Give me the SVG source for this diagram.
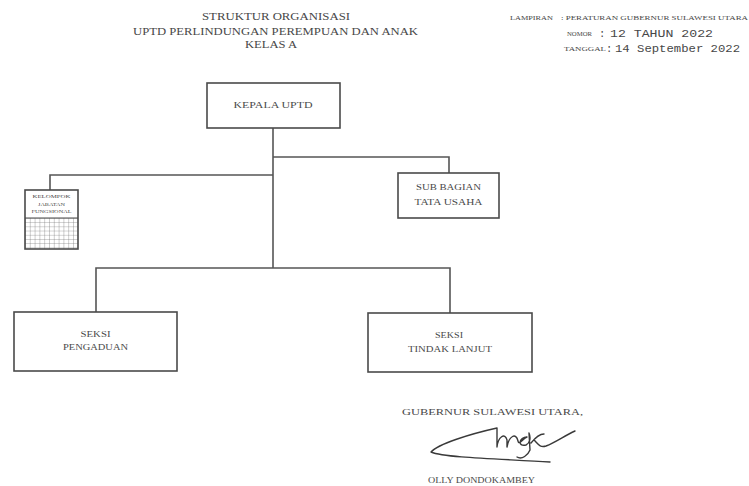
<svg xmlns="http://www.w3.org/2000/svg" width="749" height="486" viewBox="0 0 749 486">
  <defs>
    <style>
      .t { font-family: "Liberation Serif", "Times New Roman", serif; fill: #474747; }
      .m { font-family: "Liberation Mono", "Courier New", monospace; fill: #474747; }
      .box { fill: #ffffff; stroke: #4a4a4a; stroke-width: 1.6; }
      .conn { fill: none; stroke: #555555; stroke-width: 1.6; }
      .grid { stroke: #666666; stroke-width: 0.6; }
    </style>
    <pattern id="gridpat" x="25" y="218" width="4.8" height="4.2" patternUnits="userSpaceOnUse">
      <rect width="4.8" height="4.2" fill="#ffffff"/>
      <path d="M0 0 V4.2 M0 0 H4.8" class="grid"/>
    </pattern>
  </defs>
  <rect width="749" height="486" fill="#ffffff"/>

  <g id="title">
    <text class="t" x="276" y="20" font-size="10.5" text-anchor="middle" textLength="148" lengthAdjust="spacingAndGlyphs">STRUKTUR ORGANISASI</text>
    <text class="t" x="275.5" y="35" font-size="10.5" text-anchor="middle" textLength="285" lengthAdjust="spacingAndGlyphs">UPTD PERLINDUNGAN PEREMPUAN DAN ANAK</text>
    <text class="t" x="271" y="48" font-size="10.5" text-anchor="middle" textLength="52" lengthAdjust="spacingAndGlyphs">KELAS A</text>
  </g>

  <g id="lampiran">
    <text class="t" x="510" y="20" font-size="6" textLength="43" lengthAdjust="spacingAndGlyphs">LAMPIRAN</text>
    <text class="t" x="561" y="20" font-size="6" textLength="187" lengthAdjust="spacingAndGlyphs">: PERATURAN GUBERNUR SULAWESI UTARA</text>
    <text class="t" x="567" y="36" font-size="6" textLength="25" lengthAdjust="spacingAndGlyphs">NOMOR</text>
    <text class="m" x="599" y="37" font-size="10.5">:</text>
    <text class="m" x="610" y="37" font-size="10.5" textLength="103" lengthAdjust="spacingAndGlyphs">12 TAHUN 2022</text>
    <text class="t" x="564" y="51" font-size="6" textLength="42" lengthAdjust="spacingAndGlyphs">TANGGAL</text>
    <text class="m" x="606" y="52" font-size="10.5">:</text>
    <text class="m" x="615" y="52" font-size="10.5" textLength="125" lengthAdjust="spacingAndGlyphs">14 September 2022</text>
  </g>

  <g id="connectors">
    <path class="conn" d="M273 128 V268"/>
    <path class="conn" d="M273 157 H449 V173"/>
    <path class="conn" d="M273 175 H50 V190"/>
    <path class="conn" d="M96 312 V268 H450 V313"/>
  </g>

  <g id="kepala-uptd">
    <rect class="box" x="207" y="83" width="133" height="45"/>
    <text class="t" x="273" y="108" font-size="8" text-anchor="middle" textLength="79" lengthAdjust="spacingAndGlyphs">KEPALA UPTD</text>
  </g>

  <g id="kelompok-jabatan-fungsional">
    <rect x="25" y="218" width="53" height="31" fill="url(#gridpat)"/>
    <rect class="box" x="25" y="190" width="53" height="59" style="fill:none"/>
    <line x1="25" y1="218" x2="78" y2="218" stroke="#4a4a4a" stroke-width="1.2"/>
    <text class="t" x="51.5" y="198" font-size="4" text-anchor="middle" textLength="38" lengthAdjust="spacingAndGlyphs">KELOMPOK</text>
    <text class="t" x="51.5" y="206" font-size="4" text-anchor="middle" textLength="27" lengthAdjust="spacingAndGlyphs">JABATAN</text>
    <text class="t" x="51.5" y="213" font-size="4" text-anchor="middle" textLength="40" lengthAdjust="spacingAndGlyphs">FUNGSIONAL</text>
  </g>

  <g id="sub-bagian-tata-usaha">
    <rect class="box" x="398" y="173" width="101" height="45"/>
    <text class="t" x="448.5" y="190" font-size="8" text-anchor="middle" textLength="65" lengthAdjust="spacingAndGlyphs">SUB BAGIAN</text>
    <text class="t" x="448.5" y="205" font-size="8" text-anchor="middle" textLength="68" lengthAdjust="spacingAndGlyphs">TATA USAHA</text>
  </g>

  <g id="seksi-pengaduan">
    <rect class="box" x="14" y="312" width="163" height="59"/>
    <text class="t" x="95.5" y="337" font-size="7.5" text-anchor="middle" textLength="30" lengthAdjust="spacingAndGlyphs">SEKSI</text>
    <text class="t" x="95.5" y="350" font-size="7.5" text-anchor="middle" textLength="65" lengthAdjust="spacingAndGlyphs">PENGADUAN</text>
  </g>

  <g id="seksi-tindak-lanjut">
    <rect class="box" x="368" y="313" width="164" height="59"/>
    <text class="t" x="449" y="338" font-size="7.5" text-anchor="middle" textLength="28" lengthAdjust="spacingAndGlyphs">SEKSI</text>
    <text class="t" x="450" y="352" font-size="7.5" text-anchor="middle" textLength="84" lengthAdjust="spacingAndGlyphs">TINDAK LANJUT</text>
  </g>

  <g id="signature">
    <text class="t" x="492.5" y="415" font-size="8.5" text-anchor="middle" textLength="181" lengthAdjust="spacingAndGlyphs">GUBERNUR SULAWESI UTARA,</text>
    <path d="M550 462 C505 459 445 458 431 452 C438 444 470 434 497 428 L497 447 C498 437 505 432 507 440 L507 447 C509 436 516 432 518 441 C519 446 523 438 527 437 C519 437 517 447 526 445 C530 443 531 438 529 433 L530 450 C528 455 522 460 517 457 M531 443 C535 438 540 434 544 434 M534 440 C538 444 540 448 546 446 C556 442 564 436 575 431" fill="none" stroke="#3a3a3a" stroke-width="1.4" stroke-linecap="round" stroke-linejoin="round"/>
    <text class="t" x="481.5" y="483" font-size="8" text-anchor="middle" textLength="107" lengthAdjust="spacingAndGlyphs">OLLY DONDOKAMBEY</text>
  </g>
</svg>
